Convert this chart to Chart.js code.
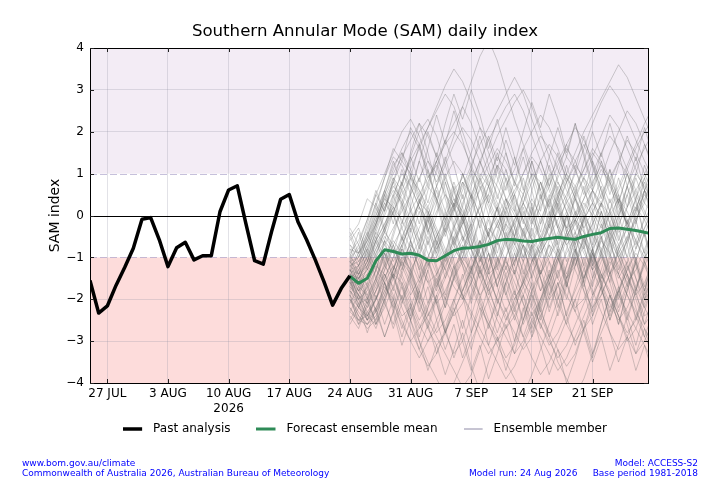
<!DOCTYPE html>
<html><head><meta charset="utf-8">
<script src="https://cdn.jsdelivr.net/npm/chart.js@4.4.0/dist/chart.umd.min.js"></script>
<style>
html,body{margin:0;padding:0;background:#fff;}
#wrap{position:relative;width:720px;height:480px;overflow:hidden;}
.foot{position:absolute;color:#0000ff;font:9px 'DejaVu Sans',sans-serif;line-height:9.5px;white-space:nowrap;}
</style></head><body>
<div id="wrap"><canvas id="c" width="720" height="480"></canvas>
<div class="foot" style="left:22px;top:459px">www.bom.gov.au/climate<br>Commonwealth of Australia 2026, Australian Bureau of Meteorology</div>
<div class="foot" style="left:469px;top:468.5px">Model run: 24 Aug 2026</div>
<div class="foot" style="right:22px;top:459px;text-align:right">Model: ACCESS-S2<br>Base period 1981-2018</div>
</div>
<script>
// Day index 0 = 25 Jul 2026
const pastStartDay = 0;
const forecastStartDay = 30; // 24 Aug 2026
const xMinDay = 0;
const xMaxDay = 64.4;
const tickDays = [2, 9, 16, 23, 30, 37, 44, 51, 58];
const tickLabels = ['27 JUL', '3 AUG', ['10 AUG', '2026'], '17 AUG', '24 AUG', '31 AUG', '7 SEP', '14 SEP', '21 SEP'];
const yMin = -4, yMax = 4;

const legendLabels = ['Past analysis', 'Forecast ensemble mean', 'Ensemble member'];
const legendColors = ['#000000', '#2e8b57', '#8e8aa6'];
const legendWidths = [3.5, 3, 1];

const pastAnalysis = [-1.55, -2.33, -2.16, -1.67, -1.24, -0.78, -0.09, -0.05, -0.58, -1.22, -0.77, -0.64, -1.06, -0.96, -0.96, 0.09, 0.61, 0.71, -0.2, -1.08, -1.16, -0.35, 0.39, 0.5, -0.15, -0.58, -1.06, -1.58, -2.14, -1.74, -1.44];

const ensembleMean = [-1.45, -1.62, -1.5, -1.08, -0.82, -0.86, -0.92, -0.9, -0.95, -1.07, -1.08, -0.96, -0.84, -0.78, -0.77, -0.74, -0.69, -0.6, -0.57, -0.58, -0.61, -0.62, -0.58, -0.55, -0.52, -0.55, -0.57, -0.5, -0.45, -0.41, -0.31, -0.3, -0.33, -0.36, -0.4, -0.44];

const ensembleMembers = [
 [-1.2,-1.0,-0.5,0.1,0.6,1.2,1.5,1.1,0.6,0.2,-0.3,-0.8,-1.2,-1.0,-0.4,0.3,0.9,1.4,1.1,0.5,-0.1,-0.6,-0.9,-0.5,0.2,0.8,1.3,1.7,1.2,0.6,0.1,-0.4,-0.2,0.4,0.9,1.3],
 [-1.8,-2.2,-2.5,-2.3,-1.8,-1.4,-1.6,-2.1,-2.6,-3.0,-2.7,-2.1,-1.5,-1.0,-1.3,-1.9,-2.5,-2.9,-3.4,-3.1,-2.5,-1.8,-1.2,-0.7,-1.0,-1.6,-2.2,-2.0,-1.5,-0.9,-0.4,-0.8,-1.4,-2.0,-2.6,-2.3],
 [-1.4,-1.5,-1.1,-0.6,-0.2,0.3,0.8,1.4,2.0,2.3,1.9,1.2,0.6,0.9,1.5,2.1,1.8,1.1,0.4,-0.2,-0.7,-1.1,-0.8,-0.2,0.5,1.0,0.7,0.1,-0.5,-1.0,-1.4,-1.1,-0.6,0.0,0.6,0.3],
 [-1.6,-2.0,-2.4,-2.6,-2.2,-1.7,-1.1,-0.7,-1.0,-1.5,-2.1,-2.8,-3.3,-3.0,-2.4,-1.7,-1.1,-0.6,-0.2,-0.5,-1.1,-1.7,-2.3,-2.8,-3.2,-3.6,-3.3,-2.7,-2.0,-1.4,-1.8,-2.4,-3.0,-2.7,-2.1,-1.6],
 [-1.0,-0.8,-0.3,0.3,0.9,1.4,1.2,0.7,0.2,-0.4,-0.9,-1.3,-1.7,-2.0,-1.6,-1.0,-0.4,0.2,0.7,1.1,1.6,2.0,2.4,2.1,1.6,1.0,0.4,-0.1,0.3,0.9,1.5,2.0,2.5,2.2,1.7,1.2],
 [-1.5,-1.8,-1.6,-1.2,-1.4,-1.9,-2.4,-2.2,-1.6,-1.0,-0.5,0.0,0.4,0.1,-0.4,-0.9,-1.4,-1.2,-0.7,-0.1,0.5,1.0,0.8,0.3,-0.2,-0.7,-1.3,-1.8,-2.2,-1.9,-1.4,-0.8,-0.3,0.2,-0.1,-0.6],
 [-2.0,-2.3,-2.6,-2.4,-1.9,-1.3,-0.7,-0.2,0.3,0.1,-0.4,-1.0,-1.5,-1.9,-2.4,-2.9,-3.3,-3.0,-2.5,-2.0,-1.6,-1.9,-2.4,-2.9,-3.5,-3.9,-4.3,-3.9,-3.3,-2.8,-2.3,-1.8,-1.3,-0.9,-1.2,-1.7],
 [-1.3,-1.2,-0.7,-0.1,0.4,0.2,-0.3,-0.8,-1.2,-1.6,-1.4,-0.9,-0.3,0.3,0.8,1.3,1.8,2.2,2.6,2.9,2.5,1.9,1.3,0.7,0.2,-0.3,-0.1,0.4,1.0,1.5,1.9,1.6,1.1,0.6,0.1,-0.4],
 [-1.7,-1.9,-2.2,-1.8,-1.3,-0.8,-1.1,-1.6,-2.1,-2.5,-2.9,-3.3,-3.7,-4.1,-3.8,-3.2,-2.6,-2.1,-1.6,-1.1,-0.7,-1.0,-1.5,-2.0,-1.7,-1.2,-0.6,-0.1,0.3,0.0,-0.5,-1.0,-1.5,-1.9,-1.6,-1.1],
 [-0.9,-0.6,-0.1,0.5,1.0,1.5,2.0,2.3,1.9,1.3,0.8,1.3,1.9,2.6,3.2,3.8,4.2,3.7,3.0,2.3,1.7,1.1,0.6,0.2,-0.3,-0.7,-0.4,0.1,0.6,1.1,0.8,0.3,-0.2,-0.6,-1.0,-0.7],
 [-1.4,-1.7,-1.9,-1.5,-1.0,-0.6,-0.9,-1.3,-0.9,-0.4,0.1,0.5,0.2,-0.3,-0.8,-1.3,-1.8,-2.3,-2.7,-2.4,-1.9,-1.4,-0.9,-0.5,-0.1,0.3,0.7,1.1,1.5,1.2,0.7,0.2,-0.2,0.2,0.6,1.0],
 [-1.9,-2.4,-2.7,-2.5,-2.0,-1.5,-1.1,-1.4,-1.9,-2.4,-2.0,-1.5,-1.0,-0.6,-0.2,0.2,0.5,0.1,-0.4,-0.9,-1.5,-2.1,-2.6,-3.1,-2.8,-2.3,-1.8,-1.3,-0.8,-0.4,0.0,0.4,0.1,-0.4,-0.9,-1.4],
 [-1.1,-1.3,-1.0,-0.4,0.2,0.7,0.4,-0.1,-0.6,-1.1,-1.6,-2.0,-2.4,-2.1,-1.6,-1.1,-0.6,-0.2,0.2,0.6,1.0,1.4,1.1,0.6,0.1,0.5,1.0,1.6,2.2,2.7,3.1,2.8,2.3,1.8,1.3,0.9],
 [-1.6,-1.6,-1.3,-0.9,-0.5,-0.8,-1.2,-1.7,-2.2,-2.7,-3.1,-2.8,-2.3,-1.8,-1.3,-0.8,-0.3,-0.6,-1.1,-1.6,-2.1,-2.5,-2.9,-3.3,-3.7,-3.4,-2.9,-2.4,-1.9,-1.5,-1.1,-1.4,-1.9,-2.4,-2.9,-3.3],
 [-1.3,-1.4,-1.2,-0.8,-0.3,0.2,0.8,1.3,1.7,2.1,2.5,2.9,2.6,2.0,1.4,0.9,0.4,-0.1,-0.5,-0.2,0.3,0.8,1.3,1.7,1.4,0.9,0.4,0.0,-0.4,-0.8,-0.4,0.1,0.7,1.2,1.6,2.0],
 [-2.2,-2.5,-2.6,-2.2,-1.7,-2.0,-2.5,-3.0,-3.4,-3.0,-2.5,-2.0,-1.5,-1.1,-0.7,-1.0,-1.5,-2.0,-2.5,-2.1,-1.6,-1.1,-0.7,-0.3,0.1,-0.3,-0.8,-1.3,-1.8,-2.3,-2.8,-3.2,-2.9,-2.4,-1.9,-1.5],
 [-0.8,-0.9,-0.6,-0.2,0.3,0.0,-0.5,-1.0,-0.6,-0.1,0.4,0.9,1.3,1.0,0.5,0.0,-0.5,-1.0,-1.4,-1.1,-0.6,-0.1,0.4,0.9,1.3,1.7,2.1,1.8,1.3,0.8,0.3,0.7,1.2,1.7,2.2,2.6],
 [-1.5,-1.9,-2.3,-2.0,-1.5,-1.0,-0.5,-0.1,0.3,0.7,0.4,-0.1,-0.6,-1.1,-1.5,-1.9,-1.6,-1.1,-0.6,-0.1,0.3,-0.1,-0.6,-1.1,-1.5,-1.9,-2.3,-2.7,-2.4,-1.9,-1.4,-0.9,-0.5,-0.1,0.3,0.0],
 [-1.2,-1.1,-0.8,-0.2,0.5,1.1,1.6,2.0,1.6,1.0,0.4,-0.2,-0.7,-1.2,-1.7,-2.2,-2.6,-3.0,-2.7,-2.2,-1.7,-1.2,-0.7,-0.2,0.3,0.8,1.2,0.9,0.4,-0.1,-0.6,-1.0,-0.6,-0.1,0.4,0.8],
 [-1.8,-2.1,-2.0,-1.6,-1.2,-1.5,-2.0,-2.5,-3.0,-3.5,-3.9,-4.3,-4.0,-3.5,-3.0,-2.5,-2.0,-1.5,-1.1,-1.4,-1.9,-2.4,-2.0,-1.5,-1.0,-0.5,-0.1,-0.4,-0.9,-1.4,-1.9,-2.4,-2.9,-3.3,-3.0,-2.5],
 [-1.0,-1.2,-0.9,-0.4,-0.7,-1.1,-0.7,-0.2,0.3,0.8,1.3,1.8,2.2,2.6,2.2,1.6,1.0,0.5,0.0,-0.5,-1.0,-0.6,-0.1,0.4,0.9,1.4,1.1,0.6,0.1,-0.3,0.1,0.6,1.1,1.6,2.0,2.3],
 [-1.6,-1.8,-1.5,-1.0,-0.6,-0.9,-1.4,-1.9,-1.5,-1.0,-0.5,-0.1,0.3,0.0,-0.5,-1.0,-1.5,-2.0,-2.4,-2.8,-3.2,-2.9,-2.4,-1.9,-1.4,-0.9,-0.5,-0.8,-1.3,-1.8,-2.2,-1.8,-1.3,-0.8,-0.3,0.1],
 [-1.4,-1.2,-0.7,-0.2,0.3,0.8,1.3,1.0,0.5,0.0,-0.5,-1.0,-0.6,-0.1,0.4,0.9,1.4,1.9,2.3,2.7,3.0,2.6,2.0,1.4,0.8,0.3,-0.2,-0.6,-0.2,0.3,0.8,1.3,1.8,1.5,1.0,0.5],
 [-2.0,-2.4,-2.6,-2.3,-1.9,-1.4,-1.0,-1.3,-1.8,-2.3,-2.8,-2.5,-2.0,-1.5,-1.0,-0.6,-0.9,-1.4,-1.9,-2.4,-2.9,-3.4,-3.8,-3.5,-3.0,-2.5,-2.0,-1.5,-1.0,-0.6,-0.9,-1.4,-1.9,-2.3,-2.7,-3.1],
 [-1.3,-1.6,-1.4,-0.9,-0.4,0.1,0.6,1.1,1.6,2.1,2.6,3.1,3.5,3.2,2.7,2.1,1.5,0.9,0.4,0.0,-0.4,-0.8,-0.5,0.0,0.5,1.0,1.5,2.0,2.4,2.8,3.2,3.6,3.3,2.8,2.3,1.8],
 [-1.7,-2.0,-1.8,-1.3,-0.9,-1.2,-1.7,-2.2,-2.7,-2.4,-1.9,-1.4,-0.9,-0.5,-0.8,-1.3,-1.8,-1.5,-1.0,-0.5,0.0,0.4,0.0,-0.5,-1.0,-1.5,-1.2,-0.7,-0.2,0.3,0.0,-0.5,-1.0,-1.5,-2.0,-1.7],
 [-1.1,-1.4,-1.1,-0.6,-0.2,0.2,-0.1,-0.6,-1.1,-1.6,-2.1,-1.8,-1.3,-0.8,-0.3,0.2,0.7,1.2,0.9,0.4,-0.1,-0.6,-1.1,-1.6,-2.1,-2.6,-3.0,-2.7,-2.2,-1.7,-1.2,-0.7,-0.3,0.1,0.5,0.2],
 [-1.5,-1.5,-1.2,-0.7,-0.3,0.1,0.5,0.9,0.6,0.1,-0.4,-0.9,-1.4,-1.9,-2.3,-2.7,-3.1,-3.5,-3.9,-3.6,-3.1,-2.6,-2.1,-1.6,-1.1,-0.6,-0.2,0.2,0.6,0.3,-0.2,-0.7,-1.2,-1.7,-2.2,-2.6],
 [-1.9,-2.2,-2.4,-2.0,-1.5,-1.0,-0.6,-0.2,0.2,-0.1,-0.6,-1.1,-0.7,-0.2,0.3,0.8,1.2,1.6,1.3,0.8,0.3,-0.2,0.2,0.7,1.2,1.6,1.3,0.8,0.3,-0.2,-0.7,-1.2,-1.6,-1.3,-0.8,-0.3],
 [-1.2,-1.4,-1.0,-0.5,0.0,0.5,1.0,0.7,0.2,-0.3,-0.8,-0.4,0.1,0.6,1.1,0.8,0.3,-0.2,-0.7,-1.2,-1.7,-2.2,-2.6,-3.0,-3.4,-3.1,-2.6,-2.1,-1.6,-1.1,-0.6,-0.2,0.2,0.6,1.0,1.4],
 [-1.6,-1.9,-2.1,-1.7,-1.2,-0.7,-0.3,0.1,0.5,0.9,1.3,1.7,2.0,1.7,1.2,0.7,0.2,-0.3,0.1,0.5,1.0,1.5,1.9,1.6,1.1,0.6,0.1,-0.3,0.1,0.5,0.9,1.3,1.0,0.5,0.0,-0.4],
 [-1.4,-1.8,-2.1,-1.8,-1.4,-1.7,-2.2,-2.7,-3.2,-3.6,-3.3,-2.8,-2.3,-1.8,-1.3,-0.8,-0.4,0.0,0.4,0.1,-0.4,-0.9,-1.4,-1.0,-0.5,0.0,0.5,0.9,0.6,0.1,-0.4,-0.9,-1.4,-1.9,-2.4,-2.2],
 [-0.7,-0.9,-0.5,0.0,0.5,1.0,1.4,1.8,2.2,1.9,1.4,0.9,0.4,-0.1,-0.6,-1.1,-0.7,-0.2,0.3,0.8,0.5,0.0,-0.5,-1.0,-0.6,-0.1,0.4,0.9,1.4,1.9,2.4,2.1,1.6,1.1,0.6,0.2],
 [-2.3,-2.5,-2.4,-2.0,-1.6,-1.2,-1.5,-2.0,-2.5,-2.1,-1.6,-1.1,-0.6,-0.2,0.2,0.6,1.0,0.7,0.2,-0.3,-0.8,-1.3,-1.8,-1.4,-0.9,-0.4,0.0,0.4,0.8,1.2,0.9,0.4,-0.1,-0.6,-1.1,-1.6],
 [-1.3,-1.7,-1.5,-1.1,-0.7,-0.3,0.1,0.5,0.9,1.3,1.0,0.5,0.0,-0.5,-1.0,-1.5,-2.0,-2.5,-2.9,-3.3,-3.0,-2.5,-2.0,-1.5,-1.0,-0.5,-0.1,0.3,0.0,-0.5,-1.0,-1.5,-1.1,-0.6,-0.1,0.3],
 [-1.5,-1.3,-0.8,-0.3,0.2,0.6,0.3,-0.2,-0.7,-1.2,-0.8,-0.3,0.2,0.7,1.2,1.7,2.1,2.5,2.9,3.3,2.9,2.3,1.7,1.1,0.6,0.1,-0.4,-0.9,-1.3,-1.0,-0.5,0.0,0.5,1.0,0.7,0.3],
 [-1.8,-2.0,-1.7,-1.3,-1.6,-2.1,-2.6,-3.0,-2.7,-2.2,-1.7,-1.2,-0.8,-1.1,-1.6,-2.1,-2.6,-3.1,-3.5,-3.9,-4.3,-3.8,-3.2,-2.6,-2.0,-1.5,-1.0,-0.6,-0.9,-1.4,-1.9,-2.4,-2.8,-2.5,-2.0,-1.5],
 [-1.1,-1.0,-0.6,-0.1,0.4,0.9,0.6,0.1,-0.4,-0.9,-1.4,-1.0,-0.5,0.0,0.5,1.0,0.7,0.2,-0.3,-0.8,-1.3,-1.8,-1.4,-0.9,-0.4,0.1,0.6,1.1,1.6,1.3,0.8,0.3,-0.2,-0.7,-0.3,0.2],
 [-1.6,-2.1,-2.5,-2.2,-1.8,-1.3,-0.8,-1.1,-1.6,-1.2,-0.7,-0.2,0.3,0.8,0.5,0.0,-0.5,-1.0,-1.5,-2.0,-1.6,-1.1,-0.6,-0.1,0.4,0.9,0.6,0.1,-0.4,-0.9,-1.4,-1.9,-2.3,-2.7,-3.1,-3.5],
 [-1.3,-1.5,-1.3,-0.8,-0.4,-0.7,-1.2,-0.8,-0.3,0.2,0.7,1.2,1.7,2.1,1.8,1.3,0.8,0.3,-0.2,-0.7,-1.1,-0.7,-0.2,0.3,0.8,0.4,-0.1,-0.6,-1.1,-1.6,-2.1,-2.5,-2.2,-1.7,-1.2,-0.7],
 [-0.5,-0.2,0.4,0.2,0.9,1.6,1.3,2.1,1.7,0.9,1.2,0.4,-0.3,0.2,-0.6,-1.4,-0.9,-1.7,-2.3,-1.8,-2.6,-2.1,-1.3,-1.9,-1.1,-0.4,-0.9,-0.1,0.6,0.2,1.1,0.5,-0.2,0.4,-0.5,-1.2],
 [-2.4,-2.7,-2.1,-2.5,-1.6,-2.2,-1.4,-0.8,-1.5,-0.6,-1.3,-2.0,-1.2,-1.9,-2.8,-2.2,-3.1,-2.4,-1.6,-2.3,-1.5,-0.7,-1.4,-0.6,0.3,-0.4,0.5,-0.3,-1.1,-0.5,-1.4,-2.2,-1.6,-2.5,-1.8,-1.1],
 [-1.0,-0.4,-1.1,-0.3,0.5,-0.2,0.7,1.4,0.8,1.6,2.4,1.7,2.5,1.8,1.1,1.9,1.2,0.4,1.1,0.3,-0.5,0.2,-0.7,-1.5,-0.8,-1.6,-0.9,-0.1,-0.8,0.1,-0.6,0.3,1.0,0.4,1.2,0.6],
 [-2.5,-2.1,-2.8,-2.2,-2.9,-2.3,-3.1,-2.5,-1.8,-2.6,-1.9,-2.7,-3.4,-2.8,-3.6,-4.2,-3.5,-2.9,-3.7,-3.0,-2.2,-2.9,-2.1,-1.4,-2.2,-1.5,-0.8,-1.6,-0.9,-1.7,-2.4,-1.8,-2.6,-3.3,-2.7,-3.4],
 [-0.4,-0.9,-0.2,0.5,0.1,0.8,0.2,-0.6,0.1,-0.7,0.0,0.8,0.2,1.0,0.4,-0.3,0.5,1.2,0.6,1.4,0.7,0.0,0.8,0.1,-0.7,0.0,-0.8,-1.5,-0.9,-1.7,-1.0,-0.3,-1.0,-0.2,0.6,-0.1],
 [-1.9,-2.6,-2.0,-1.5,-2.1,-1.3,-0.7,-1.4,-0.8,-0.1,-0.9,-0.2,0.6,-0.1,0.7,1.3,0.7,1.5,0.8,0.1,0.9,0.2,-0.6,0.1,-0.7,-1.4,-0.8,-1.6,-2.3,-1.7,-2.5,-1.9,-1.2,-1.8,-1.1,-0.4],
 [-1.2,-1.6,-0.9,-1.5,-0.8,-1.4,-2.1,-1.5,-2.3,-1.7,-2.5,-3.2,-2.6,-3.4,-2.8,-2.0,-2.7,-1.9,-1.2,-1.9,-1.1,-0.3,-1.0,-0.2,-0.9,-1.7,-1.0,-1.8,-2.6,-2.0,-2.8,-3.5,-2.9,-3.7,-3.1,-3.8],
 [-0.6,-0.3,-0.9,-0.2,0.6,1.3,0.7,1.5,2.2,1.5,0.7,1.4,0.6,-0.2,0.5,-0.3,-1.1,-0.4,0.4,-0.3,0.5,1.3,0.6,1.4,2.1,1.4,2.2,1.5,0.7,1.5,0.8,0.0,0.7,-0.1,-0.9,-0.2],
 [-2.1,-1.7,-2.4,-1.8,-1.1,-1.8,-1.0,-0.3,-1.0,-0.2,0.6,-0.1,0.7,0.0,-0.8,-0.1,-0.9,-1.7,-1.0,-1.8,-2.5,-1.9,-2.7,-2.0,-1.3,-2.0,-1.2,-0.5,-1.2,-0.4,0.4,-0.3,0.5,-0.2,0.6,1.3],
 [-1.5,-2.2,-1.6,-2.3,-2.9,-2.3,-1.6,-2.4,-1.7,-1.0,-1.7,-0.9,-0.2,-0.9,-0.1,0.7,0.0,0.8,1.5,0.8,1.6,0.9,0.1,0.9,0.2,-0.6,0.1,-0.7,-1.5,-0.8,-1.6,-2.3,-1.7,-1.0,-1.7,-0.9],
 [-0.9,-1.4,-0.8,-1.3,-0.6,0.1,-0.6,0.2,0.9,0.3,1.1,1.8,1.2,0.4,1.1,0.3,-0.5,0.2,-0.6,-1.4,-0.7,-1.5,-2.2,-1.6,-2.4,-1.7,-1.0,-1.7,-0.9,-0.2,-0.9,-0.1,0.7,0.1,0.9,0.2],
 [-2.6,-2.2,-1.7,-2.3,-1.6,-2.2,-2.9,-2.2,-3.0,-3.7,-3.1,-3.8,-3.2,-2.5,-3.2,-2.4,-1.7,-2.4,-1.6,-0.9,-1.6,-0.8,-1.5,-2.3,-1.6,-2.4,-3.1,-2.5,-3.3,-2.6,-1.9,-2.6,-1.8,-1.1,-1.8,-1.0],
 [-1.1,-0.7,-1.3,-0.6,0.1,0.9,0.3,1.0,0.4,-0.4,0.3,-0.5,0.2,1.0,0.4,1.2,1.9,1.3,2.1,1.4,0.6,1.3,0.5,-0.3,0.4,-0.4,-1.2,-0.5,-1.3,-0.6,0.1,-0.6,0.2,0.9,0.3,1.1],
 [-1.7,-1.3,-1.9,-2.6,-2.0,-2.7,-2.1,-1.4,-2.1,-1.3,-0.6,-1.3,-0.5,-1.2,-2.0,-1.3,-2.1,-2.8,-2.2,-3.0,-2.3,-1.6,-2.3,-1.5,-0.8,-1.5,-0.7,0.0,-0.7,0.1,-0.6,-1.4,-0.7,-1.5,-2.2,-1.6],
 [-0.8,-1.2,-0.5,0.2,-0.4,0.4,1.1,0.5,1.3,2.0,1.4,2.2,2.9,2.3,3.0,2.4,1.6,2.3,1.5,0.7,1.4,0.6,-0.2,0.5,-0.3,0.4,1.1,0.5,1.3,0.6,-0.2,0.5,-0.3,-1.1,-0.4,-1.2],
 [-1.4,-2.0,-2.5,-1.9,-2.6,-2.0,-1.3,-0.6,-1.3,-0.5,-1.2,-1.9,-1.2,-2.0,-1.3,-0.6,-1.3,-0.5,0.2,-0.5,0.3,1.0,0.4,1.2,0.5,-0.3,0.4,-0.4,-1.2,-0.5,-1.3,-2.0,-1.4,-2.2,-2.9,-2.3],
 [-1.3,-0.9,-0.4,-1.0,-0.3,-0.9,-0.2,0.5,-0.2,0.6,1.3,0.6,-0.2,0.5,-0.3,-1.1,-0.4,-1.2,-1.9,-1.3,-2.1,-2.8,-2.2,-2.9,-2.3,-1.6,-2.3,-1.5,-0.8,-1.5,-0.7,0.0,-0.7,0.1,0.8,0.2],
 [-2.2,-2.6,-2.3,-2.7,-2.1,-2.6,-1.9,-2.5,-3.2,-2.6,-3.3,-2.7,-2.0,-2.7,-1.9,-1.2,-1.9,-1.1,-0.4,-1.1,-0.3,-1.0,-1.8,-1.1,-1.9,-2.6,-2.0,-2.8,-3.5,-2.9,-3.7,-3.1,-2.4,-3.1,-2.3,-1.6],
 [-0.3,-0.7,-0.1,0.6,0.1,0.8,1.5,0.9,1.7,1.1,0.3,1.0,0.2,-0.6,0.1,0.9,0.3,1.1,1.8,1.2,2.0,2.7,2.1,2.9,2.3,1.5,2.2,1.4,0.6,1.3,0.5,1.2,1.9,1.3,2.1,1.4],
 [-1.8,-1.4,-2.0,-1.3,-0.6,-1.3,-0.5,-1.2,-2.0,-1.3,-2.1,-2.8,-2.2,-3.0,-3.7,-3.1,-3.9,-3.3,-2.6,-3.3,-2.5,-1.8,-2.5,-1.7,-1.0,-1.7,-0.9,-1.6,-2.4,-1.7,-2.5,-1.8,-1.1,-1.8,-1.0,-0.3],
 [-1.0,-1.5,-1.1,-0.5,-1.1,-0.4,0.3,-0.4,0.4,-0.3,-1.0,-0.3,-1.1,-1.8,-1.2,-2.0,-1.3,-0.6,-1.3,-0.5,0.2,-0.5,0.3,1.0,0.4,1.2,0.5,1.3,2.0,1.4,2.2,1.5,0.7,1.4,0.6,-0.2],
 [-2.0,-2.5,-2.2,-1.6,-0.9,-1.5,-0.8,-0.1,-0.8,0.0,0.7,0.1,-0.7,0.0,-0.8,-1.5,-0.9,-1.7,-1.0,-0.3,-1.0,-0.2,0.5,-0.1,0.7,0.1,-0.7,0.0,-0.8,-1.6,-0.9,-1.7,-2.4,-1.8,-2.6,-1.9],
 [-1.6,-1.2,-1.7,-1.1,-1.6,-2.3,-1.7,-2.5,-1.8,-1.1,-1.8,-1.0,-0.3,-1.0,-0.2,-0.9,-1.7,-1.0,-1.8,-2.5,-1.9,-2.7,-2.0,-1.3,-2.0,-1.2,-0.5,-1.2,-0.4,0.3,-0.4,0.4,-0.3,-1.1,-0.4,-1.2],
 [-0.7,-1.1,-0.6,0.0,0.6,0.0,0.8,0.2,-0.6,0.1,-0.7,-1.5,-0.8,-0.1,-0.8,0.0,0.7,0.1,0.9,0.2,-0.6,0.1,0.8,0.2,1.0,1.7,1.1,1.9,1.2,0.4,1.1,0.3,1.0,0.3,-0.5,0.2],
 [-2.3,-1.9,-2.5,-2.0,-1.4,-2.0,-2.7,-2.1,-2.9,-2.2,-1.5,-2.2,-1.4,-0.7,-1.4,-0.6,-1.3,-2.1,-1.4,-2.2,-2.9,-2.3,-3.1,-3.8,-3.2,-4.0,-3.4,-2.7,-3.4,-2.6,-1.9,-2.6,-1.8,-1.1,-1.8,-1.0],
 [-1.3,-1.8,-1.2,-0.6,-1.2,-0.5,0.2,0.9,0.3,1.1,0.4,-0.4,0.3,-0.5,-1.3,-0.6,-1.4,-0.7,0.0,-0.7,0.1,-0.6,-1.4,-0.7,-1.5,-0.8,-0.1,-0.8,0.0,0.7,0.1,0.9,0.2,1.0,1.7,1.1],
 [-1.9,-1.5,-2.0,-2.6,-2.0,-1.4,-2.0,-1.3,-2.0,-2.7,-2.0,-2.8,-2.1,-1.4,-2.1,-1.3,-0.6,-1.3,-0.5,-1.2,-0.4,0.3,-0.4,0.4,-0.3,-1.1,-0.4,-1.2,-1.9,-1.3,-0.6,-1.3,-0.5,-1.2,-2.0,-1.3],
 [-0.5,-1.0,-0.4,0.3,-0.3,0.5,-0.2,0.6,1.3,0.7,1.5,0.8,0.1,0.8,0.0,-0.8,-0.1,-0.9,-0.2,0.5,-0.2,0.6,1.3,0.7,1.5,0.8,0.0,0.7,-0.1,-0.9,-0.2,-1.0,-1.7,-1.1,-1.9,-1.2],
 [-1.5,-1.9,-1.4,-2.0,-1.3,-0.7,-1.3,-0.6,-1.3,-2.1,-1.4,-2.2,-1.5,-0.8,-1.5,-0.7,0.0,-0.7,0.1,-0.6,-1.4,-0.7,-1.5,-2.2,-1.6,-2.4,-1.7,-1.0,-1.7,-0.9,-1.6,-0.8,-0.1,-0.8,0.0,0.7],
 [-1.1,-1.6,-2.1,-1.5,-0.9,-1.5,-0.8,-1.5,-0.7,0.0,-0.7,0.1,0.8,0.2,1.0,0.3,-0.5,0.2,-0.6,-1.4,-0.7,-1.5,-0.8,-0.1,-0.8,0.0,-0.7,-1.5,-0.8,-1.6,-2.3,-1.7,-2.5,-1.8,-1.1,-1.8]
];

const toPoints = (values, startDay) => values.map((v, i) => ({x: startDay + i, y: v}));

const datasets = [
  {label: legendLabels[0], data: toPoints(pastAnalysis, pastStartDay), borderColor: '#000000', borderWidth: 3.5, order: 0, borderJoinStyle: 'round'},
  {label: legendLabels[1], data: toPoints(ensembleMean, forecastStartDay), borderColor: '#2e8b57', borderWidth: 3, order: 1, borderJoinStyle: 'round'}
].concat(ensembleMembers.map((m, k) => ({
  label: k === 0 ? legendLabels[2] : '',
  data: toPoints(m, forecastStartDay),
  borderColor: 'rgba(110,110,110,0.33)',
  borderWidth: 1,
  order: 2
})));

// legend swatch images: 19px line followed by 5px of empty space
function swatch(color, width) {
  const cv = document.createElement('canvas');
  cv.width = 24; cv.height = 12;
  const g = cv.getContext('2d');
  g.strokeStyle = color; g.lineWidth = width;
  g.beginPath(); g.moveTo(0, 6); g.lineTo(19, 6); g.stroke();
  return cv;
}
const legendSwatches = legendColors.map((c, i) => swatch(c, legendWidths[i]));

const gridColor = 'rgba(140,140,160,0.25)';

const decor = {
  id: 'samDecor',
  afterLayout(chart) {
    // pull the legend row up so it sits just under the two-line date labels
    const lg = chart.legend;
    if (lg) { lg.top -= 19; lg.bottom -= 19; }
  },
  beforeDraw(chart) {
    const {ctx, chartArea: a, scales: {y}} = chart;
    const p1 = y.getPixelForValue(1), pm1 = y.getPixelForValue(-1);
    ctx.save();
    ctx.fillStyle = '#f3ecf5';
    ctx.fillRect(a.left, a.top, a.right - a.left, p1 - a.top);
    ctx.fillStyle = '#fddcdb';
    ctx.fillRect(a.left, pm1, a.right - a.left, a.bottom - pm1);
    ctx.restore();
  },
  beforeDatasetsDraw(chart) {
    const {ctx, chartArea: a, scales: {y}} = chart;
    ctx.save();
    ctx.strokeStyle = 'rgba(160,150,195,0.6)';
    ctx.lineWidth = 1;
    ctx.setLineDash([7, 3]);
    [1, -1].forEach(v => {
      const py = Math.round(y.getPixelForValue(v)) + 0.5;
      ctx.beginPath(); ctx.moveTo(a.left, py); ctx.lineTo(a.right, py); ctx.stroke();
    });
    ctx.restore();
  },
  afterDatasetsDraw(chart) {
    const {ctx, chartArea: a, scales: {x, y}} = chart;
    ctx.save();
    ctx.strokeStyle = '#000';
    ctx.lineWidth = 1;
    const p0 = Math.round(y.getPixelForValue(0)) + 0.5;
    ctx.beginPath(); ctx.moveTo(a.left, p0); ctx.lineTo(a.right, p0); ctx.stroke();
    ctx.strokeRect(Math.round(a.left) + 0.5, Math.round(a.top) + 0.5, Math.round(a.right - a.left), Math.round(a.bottom - a.top));
    ctx.strokeStyle = '#222';
    const L = 4;
    x.ticks.forEach(t => {
      const px = Math.round(x.getPixelForValue(t.value)) + 0.5;
      ctx.beginPath();
      ctx.moveTo(px, a.bottom); ctx.lineTo(px, a.bottom - L);
      ctx.moveTo(px, a.top); ctx.lineTo(px, a.top + L);
      ctx.stroke();
    });
    y.ticks.forEach(t => {
      const py = Math.round(y.getPixelForValue(t.value)) + 0.5;
      ctx.beginPath();
      ctx.moveTo(a.left, py); ctx.lineTo(a.left + L, py);
      ctx.moveTo(a.right, py); ctx.lineTo(a.right - L, py);
      ctx.stroke();
    });
    ctx.restore();
  }
};

Chart.defaults.font.family = "'DejaVu Sans', sans-serif";
Chart.defaults.color = '#000';

new Chart(document.getElementById('c'), {
  type: 'line',
  data: {datasets},
  plugins: [decor],
  options: {
    responsive: false,
    animation: false,
    layout: {padding: {left: 10, right: 0, top: 0, bottom: 16}},
    elements: {point: {radius: 0, hoverRadius: 0}, line: {tension: 0}},
    plugins: {
      tooltip: {enabled: false},
      title: {
        display: true,
        text: 'Southern Annular Mode (SAM) daily index',
        color: '#000',
        font: {size: 16.6, weight: 'normal'},
        padding: {top: 21.6, bottom: 6.5}
      },
      legend: {
        display: true,
        position: 'bottom',
        labels: {
          usePointStyle: true,
          pointStyleWidth: 24,
          padding: 26,
          color: '#000',
          font: {size: 12},
          generateLabels: () => legendLabels.map((t, i) => ({
            text: t, strokeStyle: legendColors[i], fillStyle: legendColors[i],
            lineWidth: legendWidths[i], pointStyle: legendSwatches[i], hidden: false,
            datasetIndex: i, fontColor: '#000'
          }))
        }
      }
    },
    scales: {
      x: {
        type: 'linear',
        min: xMinDay,
        max: xMaxDay,
        afterBuildTicks: s => { s.ticks = tickDays.map(v => ({value: v})); },
        afterFit: s => { s.height = 33; },
        ticks: {
          autoSkip: false, maxRotation: 0, padding: 4,
          font: {size: 12}, color: '#000',
          callback: (v, i) => tickLabels[i]
        },
        grid: {color: gridColor, drawTicks: false},
        border: {display: true, color: '#000'}
      },
      y: {
        type: 'linear',
        min: yMin,
        max: yMax,
        afterFit: s => { s.width = 80; },
        ticks: {
          stepSize: 1, padding: 6, font: {size: 12}, color: '#000',
          callback: v => String(v).replace('-', '\u2212')
        },
        grid: {
          drawTicks: false,
          color: c => (c.tick && (Math.abs(c.tick.value) === 1 || c.tick.value === 0)) ? 'rgba(0,0,0,0)' : gridColor
        },
        border: {display: true, color: '#000'},
        title: {display: true, text: 'SAM index', color: '#000', font: {size: 14}, padding: {top: 36.6, bottom: 0}}
      },
      y2: {
        type: 'linear',
        position: 'right',
        min: yMin,
        max: yMax,
        afterFit: s => { s.width = 72; },
        ticks: {display: false},
        grid: {display: false, drawTicks: false},
        border: {display: false}
      }
    }
  }
});
</script>
</body></html>
